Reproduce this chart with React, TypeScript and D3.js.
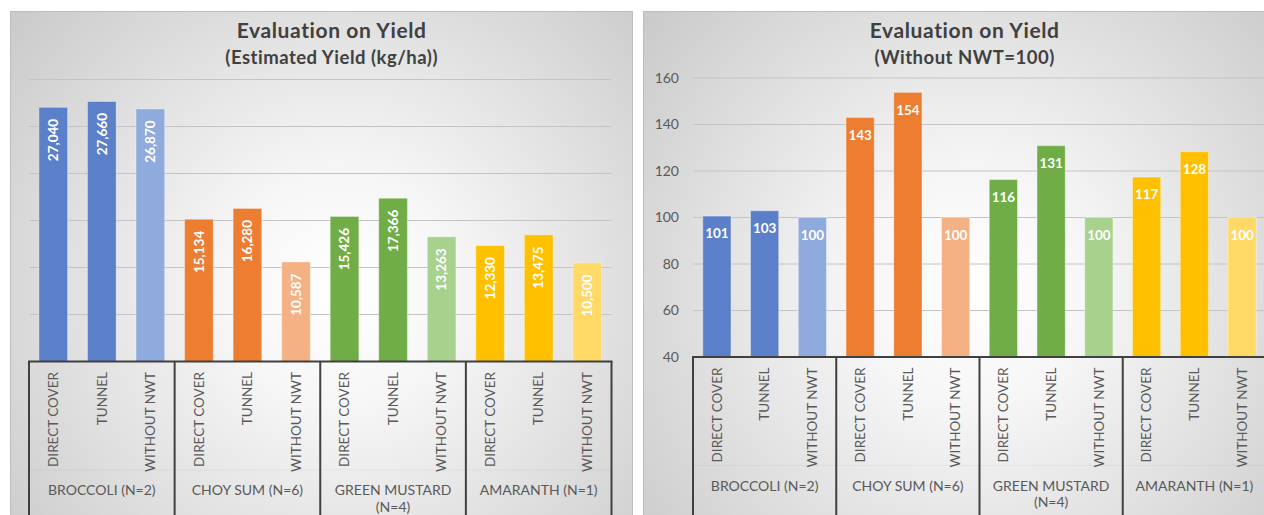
import React from "react";
import * as d3 from "d3";

const groups = ["BROCCOLI (N=2)", "CHOY SUM (N=6)", "GREEN MUSTARD (N=4)", "AMARANTH (N=1)"];
const groupLines = [["BROCCOLI (N=2)"], ["CHOY SUM (N=6)"], ["GREEN MUSTARD", "(N=4)"], ["AMARANTH (N=1)"]];
const treatments = ["DIRECT COVER", "TUNNEL", "WITHOUT NWT"];
const yieldValues = [27040, 27660, 26870, 15134, 16280, 10587, 15426, 17366, 13263, 12330, 13475, 10500];
const indexValues = [100.6, 102.9, 100, 143.0, 153.8, 100, 116.3, 130.9, 100, 117.4, 128.3, 100];
const yieldTicks = [5000, 10000, 15000, 20000, 25000, 30000];
const indexTicks = [40, 60, 80, 100, 120, 140, 160];

const palette = [
  ["#5B7FC9", "#5B7FC9", "#8FAADC"],
  ["#ED7D31", "#ED7D31", "#F4B183"],
  ["#70AD47", "#70AD47", "#A9D18E"],
  ["#FFC000", "#FFC000", "#FFD966"],
];

const FONT = "Lato, 'Open Sans', sans-serif";
const TXT = "#595959";

type PanelProps = {
  id: string;
  px: number;
  title: string;
  subtitle: string;
  values: number[];
  domain: [number, number];
  ticks: number[];
  showTickLabels: boolean;
  x0: number;
  x1: number;
  base: number;
  top: number;
  horizontalLabels: boolean;
  fmt: (v: number) => string;
};

function Panel(p: PanelProps) {
  const pw = 622;
  const y = d3.scaleLinear().domain(p.domain).range([p.base, p.top]);
  const keys = d3.range(12).map(String);
  const x = d3.scaleBand().domain(keys).range([p.x0, p.x1]).paddingInner(0.41).paddingOuter(0.205);
  const groupW = (p.x1 - p.x0) / groups.length;
  const bw = x.bandwidth();
  return (
    <g>
      <defs>
        <radialGradient id={p.id + "bg"} gradientUnits="userSpaceOnUse" cx={p.px + 330} cy={290} r={470}>
          <stop offset="0" stopColor="#ffffff" />
          <stop offset="0.25" stopColor="#f6f6f6" />
          <stop offset="1" stopColor="#c4c4c4" />
        </radialGradient>
        <clipPath id={p.id + "clip"}>
          <rect x={p.px} y={11} width={pw} height={520} />
        </clipPath>
      </defs>
      <rect x={p.px + 0.5} y={11.5} width={pw} height={520} fill={`url(#${p.id}bg)`} stroke="#bdbdbd" strokeWidth={1} />
      <g clipPath={`url(#${p.id}clip)`}>
        <text x={p.px + 321.7} y={38.3} textAnchor="middle" fontFamily={FONT} fontWeight="bold" fontSize={21} letterSpacing={0.6} fill="#404040">
          {p.title}
        </text>
        <text x={p.px + 321.7} y={64} textAnchor="middle" fontFamily={FONT} fontWeight="bold" fontSize={18.5} letterSpacing={0.5} fill="#404040">
          {p.subtitle}
        </text>
        {p.ticks.map((t) =>
          y(t) < p.base - 1 ? (
            <line key={"g" + t} x1={p.x0} x2={p.x1} y1={y(t)} y2={y(t)} stroke="#c4c4c4" strokeWidth={1} />
          ) : null
        )}
        {p.showTickLabels &&
          p.ticks.map((t) => (
            <text key={"t" + t} x={p.x0 - 14} y={y(t)} dy="0.35em" textAnchor="end" fontFamily={FONT} fontSize={14} fill={TXT}>
              {t}
            </text>
          ))}
        {p.values.map((v, i) => {
          const gi = Math.floor(i / 3);
          const ti = i % 3;
          const bx = x(String(i)) as number;
          const by = y(v);
          const cx = bx + bw / 2;
          return (
            <g key={"b" + i}>
              <rect x={bx} y={by} width={bw} height={p.base - by} fill={palette[gi][ti]} stroke="#ffffff" strokeOpacity={0.35} strokeWidth={1} />
              {p.horizontalLabels ? (
                <text x={cx} y={by + 17.5} dy="0.35em" textAnchor="middle" fontFamily={FONT} fontWeight="bold" fontSize={13.5} fill="#ffffff">
                  {p.fmt(v)}
                </text>
              ) : (
                <text
                  transform={`translate(${cx},${by + 11.5}) rotate(-90)`}
                  dy="0.35em"
                  textAnchor="end"
                  fontFamily={FONT}
                  fontWeight="bold"
                  fontSize={13.5}
                  fill="#ffffff"
                >
                  {p.fmt(v)}
                </text>
              )}
              <text
                transform={`translate(${cx},${p.base + 10.5}) rotate(-90)`}
                dy="0.35em"
                textAnchor="end"
                fontFamily={FONT}
                fontSize={13.5}
                fill={TXT}
              >
                {treatments[ti]}
              </text>
            </g>
          );
        })}
        <line x1={p.x0} x2={p.x1} y1={p.base + 470 - 361.5} y2={p.base + 470 - 361.5} stroke="#000" strokeOpacity={0.04} strokeWidth={1} />
        {groups.map((g, gi) => (
          <text key={"gl" + gi} x={p.x0 + groupW * (gi + 0.5)} y={p.base + 129} textAnchor="middle" fontFamily={FONT} fontSize={14} fill={TXT}>
            {groupLines[gi].map((ln, li) => (
              <tspan key={li} x={p.x0 + groupW * (gi + 0.5)} dy={li === 0 ? "0.35em" : 16.5}>
                {ln}
              </tspan>
            ))}
          </text>
        ))}
        <line x1={p.x0 - 1} x2={p.x1 + 1} y1={p.base} y2={p.base} stroke="#404040" strokeWidth={2} />
        {d3.range(groups.length + 1).map((k) => (
          <line key={"v" + k} x1={p.x0 + groupW * k} x2={p.x0 + groupW * k} y1={p.base} y2={530} stroke="#404040" strokeWidth={2} />
        ))}
      </g>
    </g>
  );
}

export default function App() {
  return (
    <svg width={1264} height={515} style={{ position: "absolute", left: 0, top: 0, background: "#ffffff" }}>
      <rect x={0} y={0} width={1264} height={515} fill="#ffffff" />
      <Panel
        id="l"
        px={10}
        title="Evaluation on Yield"
        subtitle="(Estimated Yield (kg/ha))"
        values={yieldValues}
        domain={[0, 30000]}
        ticks={yieldTicks}
        showTickLabels={false}
        x0={29}
        x1={611.5}
        base={361.5}
        top={79.5}
        horizontalLabels={false}
        fmt={d3.format(",")}
      />
      <Panel
        id="r"
        px={643}
        title="Evaluation on Yield"
        subtitle="(Without NWT=100)"
        values={indexValues}
        domain={[40, 160]}
        ticks={indexTicks}
        showTickLabels={true}
        x0={693}
        x1={1266}
        base={357}
        top={78}
        horizontalLabels={true}
        fmt={(v: number) => String(Math.round(v))}
      />
    </svg>
  );
}
